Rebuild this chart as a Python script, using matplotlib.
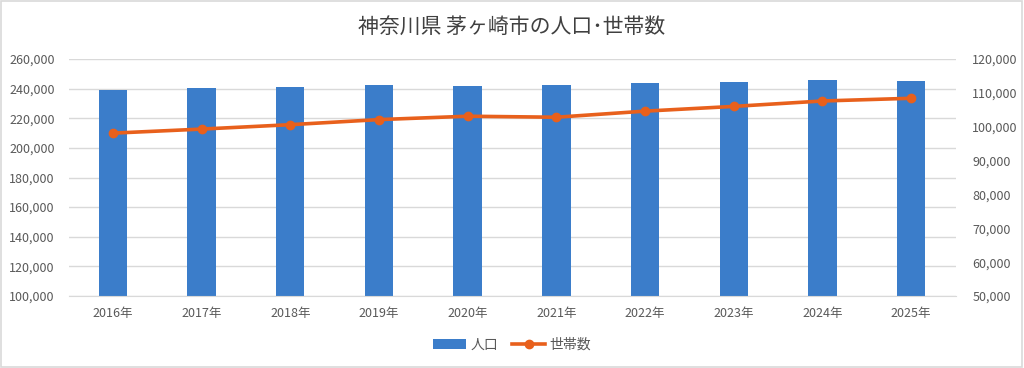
import matplotlib
matplotlib.use("Agg")
import matplotlib.pyplot as plt
from matplotlib.patches import Rectangle
from matplotlib.ticker import FuncFormatter, MultipleLocator

plt.rcParams['font.family'] = ['Noto Sans CJK JP', 'DejaVu Sans']

years = ["2016年", "2017年", "2018年", "2019年", "2020年", "2021年", "2022年", "2023年", "2024年", "2025年"]
population = [239300, 240200, 240900, 242400, 241800, 242200, 243800, 244300, 245800, 245100]
households = [98100, 99300, 100600, 102100, 103100, 102800, 104600, 106000, 107600, 108400]

title = "神奈川県 茅ヶ崎市の人口･世帯数"
bar_label = "人口"
line_label = "世帯数"

bar_color = "#3b7dca"
line_color = "#e8601c"
text_color = "#595959"
grid_color = "#d9d9d9"

fig = plt.figure(figsize=(10.24, 3.68), dpi=100)
ax = fig.add_axes([68.5 / 1024, 1 - 296 / 368, 887 / 1024, 237 / 368])
ax2 = ax.twinx()

x = list(range(len(years)))
bars = ax.bar(x, population, width=0.32, color=bar_color, zorder=2, label=bar_label)
line, = ax2.plot(x, households, color=line_color, linewidth=2.6, marker='o', markersize=6,
                 zorder=3, label=line_label)

ax.set_xlim(-0.5, len(years) - 0.5)
ax.set_ylim(100000, 260000)
ax2.set_ylim(50000, 120000)
ax.yaxis.set_major_locator(MultipleLocator(20000))
ax2.yaxis.set_major_locator(MultipleLocator(10000))
fmt = FuncFormatter(lambda v, p: f"{int(v):,}")
ax.yaxis.set_major_formatter(fmt)
ax2.yaxis.set_major_formatter(fmt)

ax.set_xticks(x)
ax.set_xticklabels(years)
ax.grid(axis='y', color=grid_color, linewidth=1, zorder=0)
ax.set_axisbelow(True)

for a in (ax, ax2):
    for s in a.spines.values():
        s.set_visible(False)
    a.tick_params(length=0, labelsize=9, colors=text_color)
ax.spines['bottom'].set_visible(True)
ax.spines['bottom'].set_color(grid_color)
ax.tick_params(axis='y', pad=10)
ax2.tick_params(axis='y', pad=12)
ax.tick_params(axis='x', pad=8)

ax2.set_zorder(ax.get_zorder() + 1)
ax2.patch.set_visible(False)

fig.text(0.5, 1 - 27 / 368, title, ha='center', va='center', fontsize=15, color="#404040")

fig.legend(handles=[bars, line], labels=[bar_label, line_label], loc='center',
           bbox_to_anchor=(0.5, 1 - 345 / 368), ncol=2, frameon=False,
           fontsize=10, labelcolor=text_color, handlelength=2.4, columnspacing=1.0,
           handletextpad=0.3)

fig.patches.append(Rectangle((0.001, 0.002), 0.997, 0.995, transform=fig.transFigure,
                             fill=False, edgecolor=grid_color, linewidth=1.2))

fig.savefig("out.png", dpi=100)
